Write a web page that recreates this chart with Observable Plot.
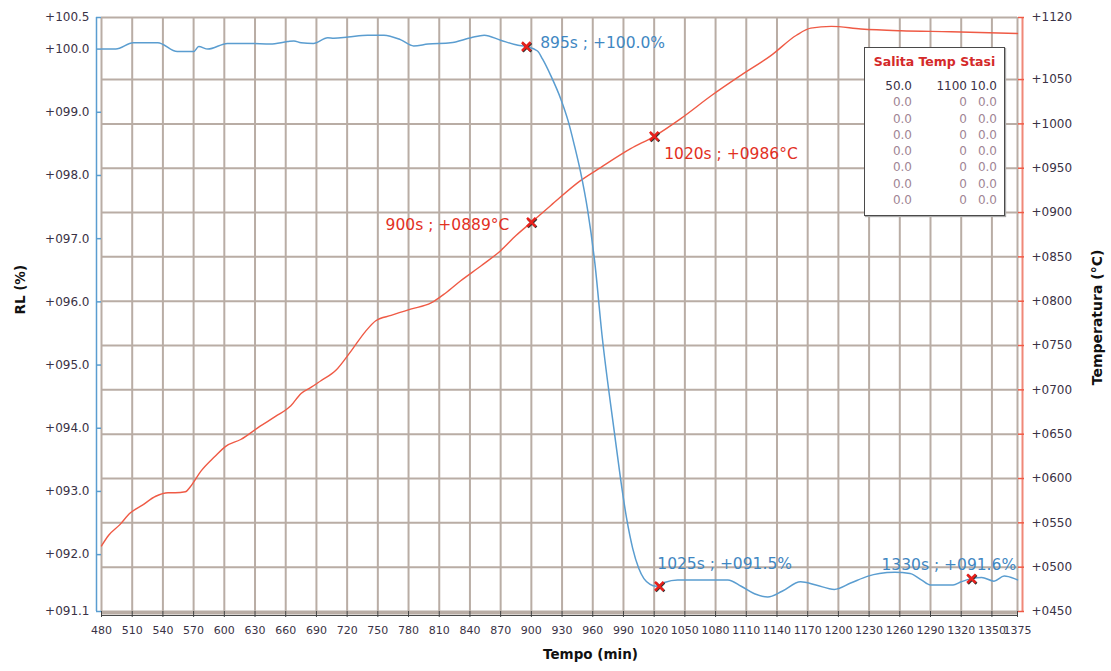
<!DOCTYPE html>
<html><head><meta charset="utf-8">
<script src="https://cdn.jsdelivr.net/npm/d3@7"></script>
<script src="https://cdn.jsdelivr.net/npm/@observablehq/plot@0.6"></script>
<style>
html,body{margin:0;padding:0;background:#fff;}
#wrap{position:relative;width:1111px;height:671px;font-family:"DejaVu Sans",Verdana,sans-serif;}
#legend{position:absolute;left:864px;top:47px;width:139px;height:167px;border:1.5px solid #4a4a4a;background:#fff;box-shadow:1px 1px 1px #aaa;}
#legend .hdr{position:absolute;left:0;top:6px;width:100%;text-align:center;font-weight:bold;font-size:12.5px;color:#d42a2a;}
#legend table{position:absolute;left:0;top:30px;border-collapse:collapse;table-layout:fixed;font-size:12px;}
#legend td{padding:0;text-align:right;height:16.3px;line-height:16.3px;}
#legend tr.r0 td{color:#3a3045;}
#legend tr.rn td{color:#a08494;}
</style></head><body><div id="wrap"></div>
<script>
// ---- Data ----
const rlTime  = [480,494,511,535,554,570,575,584,603,625,645,662,668,675,687,701,707,721,740,756,772,785,799,821,841,854,870,887,895,906,911,919,929,936,942,948,955,962,969,981,987,993,999,1005,1010,1016,1022,1030,1043,1092,1105,1118,1131,1145,1163,1178,1196,1212,1229,1240,1255,1270,1281,1290,1312,1320,1330,1340,1352,1362,1372,1375];
const rlValue = [100.00,100.00,100.10,100.10,99.96,99.96,100.04,100.00,100.09,100.09,100.08,100.12,100.13,100.10,100.09,100.18,100.17,100.19,100.22,100.22,100.15,100.05,100.08,100.10,100.18,100.22,100.14,100.06,100.04,99.97,99.84,99.58,99.20,98.86,98.48,98.06,97.45,96.62,95.48,93.95,93.22,92.58,92.10,91.78,91.62,91.53,91.50,91.56,91.60,91.60,91.50,91.38,91.33,91.42,91.57,91.52,91.45,91.55,91.66,91.70,91.72,91.70,91.60,91.52,91.52,91.57,91.62,91.64,91.58,91.66,91.62,91.60];

const tempTime  = [480,487,498,508,520,533,545,552,562,567,577,591,601,616,635,650,665,675,685,694,709,724,738,748,763,782,802,816,831,851,870,885,900,919,948,968,997,1020,1046,1076,1105,1134,1159,1173,1193,1222,1261,1310,1375];
const tempValue = [524,536,548,561,570,580,584,584,585,591,608,625,636,644,659,670,682,696,703,710,722,744,766,778,784,791,798,809,823,840,857,874,889,908,936,951,972,986,1006,1032,1055,1077,1100,1108,1110,1107,1105,1104,1102];

const xTicks    = [480,510,540,570,600,630,660,690,720,750,780,810,840,870,900,930,960,990,1020,1050,1080,1110,1140,1170,1200,1230,1260,1290,1320,1350,1375];
const rlTicks   = [91.1,92,93,94,95,96,97,98,99,100,100.5];
const tempTicks = [450,500,550,600,650,700,750,800,850,900,950,1000,1050,1120];
const tempGrid  = [500,550,600,650,700,750,800,850,900,950,1000,1050];

const rlMarkTime  = [895,1025,1330];
const rlMarkValue = [100.04,91.50,91.62];
const rlMarkLabel = ["895s ; +100.0%","1025s ; +091.5%","1330s ; +091.6%"];
const tempMarkTime  = [900,1020];
const tempMarkValue = [889,986];
const tempMarkLabel = ["900s ; +0889°C","1020s ; +0986°C"];

const legendHeader = ["Salita","Temp","Stasi"];
const legendRows = [["50.0","1100","10.0"],["0.0","0","0.0"],["0.0","0","0.0"],["0.0","0","0.0"],["0.0","0","0.0"],["0.0","0","0.0"],["0.0","0","0.0"],["0.0","0","0.0"]];

// ---- Helpers ----
const rlMin = 91.1, rlMax = 100.5, tMin = 450, tMax = 1120;
const tToY = T => rlMin + (T - tMin) * (rlMax - rlMin) / (tMax - tMin);
const yToT = y => Math.round(tMin + (y - rlMin) * (tMax - tMin) / (rlMax - rlMin));
const fmtRL = d => "+" + (d < 100 ? "0" : "") + d.toFixed(1);
const fmtT = d => "+" + String(yToT(d)).padStart(4, "0");

const rlData = rlTime.map((t, i) => ({t, v: rlValue[i]}));
const tempData = tempTime.map((t, i) => ({t, v: tToY(tempValue[i])}));
const rlMarks = rlMarkTime.map((t, i) => ({t, v: rlMarkValue[i], label: rlMarkLabel[i]}));
const tempMarks = tempMarkTime.map((t, i) => ({t, v: tToY(tempMarkValue[i]), label: tempMarkLabel[i]}));

const grid = "#b9ada5", blue = "#5a9dd0", red = "#ef5a45", blueText = "#3f87c2", redText = "#e2301f", tickText = "#3a3245";
const font = "DejaVu Sans";

function label(d, opts) {
  return Plot.text([d], {x: "t", y: "v", text: "label", fontSize: 15.5, fontFamily: font, ...opts});
}

const chart = Plot.plot({
  width: 1111, height: 671,
  marginLeft: 101, marginRight: 94, marginTop: 17, marginBottom: 60,
  style: {fontFamily: font, background: "#fff"},
  x: {domain: [480, 1375]},
  y: {domain: [rlMin, rlMax]},
  marks: [
    Plot.ruleX(xTicks, {stroke: grid, strokeWidth: 2}),
    Plot.ruleY(tempGrid.map(tToY), {stroke: grid, strokeWidth: 2}),
    Plot.ruleY([rlMax], {stroke: grid, strokeWidth: 2}),
    Plot.ruleY([rlMin], {stroke: grid, strokeWidth: 4, dy: 1}),
    Plot.ruleY([rlMin], {stroke: "#4a4a4a", strokeWidth: 1.2, dy: 4}),
    Plot.axisX(xTicks, {anchor: "bottom", tickSize: 6, tickPadding: 9, stroke: "#444", fill: tickText, fontSize: 11, tickFormat: d => String(d), label: null}),
    Plot.ruleX([480], {dx: -5, stroke: blue, strokeWidth: 1.5}),
    Plot.axisY(rlTicks, {anchor: "left", tickSize: 5, tickPadding: 7, stroke: blue, strokeWidth: 1.5, fill: tickText, fontSize: 12, tickFormat: fmtRL, label: null}),
    Plot.ruleX([1375], {dx: 5, stroke: "#f08878", strokeWidth: 2}),
    Plot.axisY(tempTicks.map(tToY), {anchor: "right", tickSize: 6, tickPadding: 8, stroke: red, strokeWidth: 1.5, fill: tickText, fontSize: 12, tickFormat: fmtT, label: null}),
    Plot.line(tempData, {x: "t", y: "v", stroke: red, strokeWidth: 1.4, curve: "monotone-x"}),
    Plot.line(rlData, {x: "t", y: "v", stroke: blue, strokeWidth: 1.5, curve: "monotone-x"}),
    Plot.dot([...rlMarks, ...tempMarks], {x: "t", y: "v", symbol: "times", r: 4, stroke: "#333", strokeWidth: 2.5, dx: 0.8, dy: 0.8}),
    Plot.dot([...rlMarks, ...tempMarks], {x: "t", y: "v", symbol: "times", r: 4, stroke: "#e8201c", strokeWidth: 2.5}),
    label(rlMarks[0], {fill: blueText, textAnchor: "start", dx: 14, dy: -4}),
    label(rlMarks[1], {fill: blueText, textAnchor: "start", dx: -2, dy: -22}),
    label(rlMarks[2], {fill: blueText, textAnchor: "start", dx: -90, dy: -14}),
    label(tempMarks[0], {fill: redText, textAnchor: "end", dx: -22, dy: 3}),
    label(tempMarks[1], {fill: redText, textAnchor: "start", dx: 10, dy: 18}),
    Plot.text(["RL (%)"], {frameAnchor: "left", dx: -81, rotate: -90, textAnchor: "start", fontWeight: "bold", fontSize: 13.5, fill: "#111"}),
    Plot.text(["Temperatura (°C)"], {frameAnchor: "right", dx: 80, dy: 3, rotate: -90, textAnchor: "middle", fontWeight: "bold", fontSize: 14, fill: "#111"}),
    Plot.text(["Tempo (min)"], {frameAnchor: "bottom", dx: 31, dy: 47, fontWeight: "bold", fontSize: 13.5, fill: "#111"})
  ]
});

const wrap = document.getElementById("wrap");
wrap.appendChild(chart);

// legend box
const lg = document.createElement("div");
lg.id = "legend";
const hdr = document.createElement("div");
hdr.className = "hdr";
hdr.textContent = legendHeader.join(" ");
lg.appendChild(hdr);
const tbl = document.createElement("table");
const cg = document.createElement("colgroup");
[47, 55, 30].forEach(w => { const c = document.createElement("col"); c.style.width = w + "px"; cg.appendChild(c); });
tbl.appendChild(cg);
legendRows.forEach((r, i) => {
  const tr = document.createElement("tr");
  tr.className = i === 0 ? "r0" : "rn";
  r.forEach(v => { const td = document.createElement("td"); td.textContent = v; tr.appendChild(td); });
  tbl.appendChild(tr);
});
lg.appendChild(tbl);
wrap.appendChild(lg);
</script></body></html>
